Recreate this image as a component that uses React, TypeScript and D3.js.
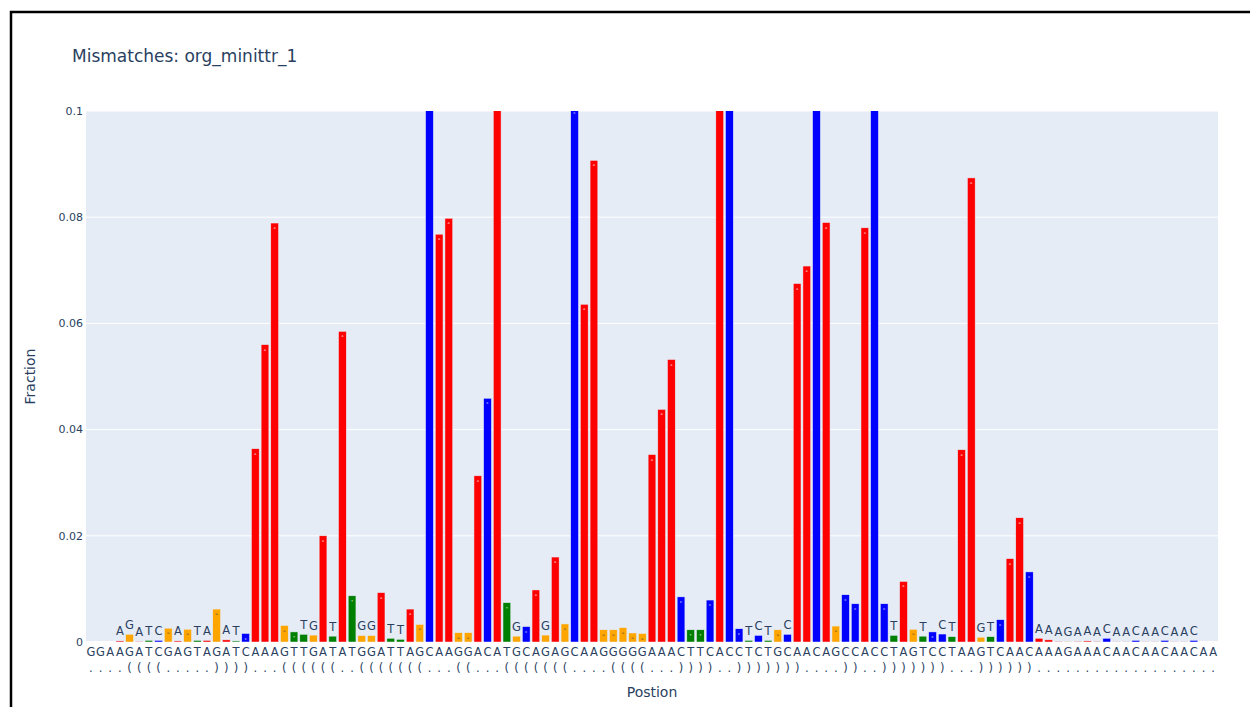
import { useEffect, useRef } from 'react';
import * as d3 from 'd3';

// reference sequence, one letter per position (117 nt)
const sequence = [
  'GGAAGATCGA', 'GTAGATCAAA', 'GTTGATATGG', 'ATTAGCAAGG', 'ACATGCAGAG', 'CAAGGGGGAA',
  'ACTTCACCTC', 'TGCAACAGCC', 'ACCTAGTCCT', 'AAGTCAACAA', 'AGAAACAACA', 'ACAACAA',
].join('');

// dot-bracket secondary structure, same length as sequence
const structure = [
  '....', '((((', '.....', '))))', '...', '((((((', '..', '(((((((', '...', '((', '...',
  '(((((((', '....', '((((', '...', '))))', '..', ')))))))', '....', '))', '..',
  ')))))))', '...', '))))))', '...................',
].join('');

// mismatch fraction per position (null = no data)
const fractions: (number | null)[] = [
  null, null, null, 0.0002, 0.00145, 0.0001, 0.0003, 0.0003, 0.0026, 0.0002,
  0.0024, 0.0003, 0.0003, 0.0062, 0.0004, 0.0002, 0.0016, 0.0364, 0.056, 0.0789,
  0.0031, 0.0019, 0.00145, 0.0013, 0.02, 0.0011, 0.0585, 0.0087, 0.0012, 0.0012,
  0.0093, 0.0007, 0.0005, 0.0062, 0.0033, 0.14, 0.0768, 0.0798, 0.00175, 0.00175,
  0.0313, 0.0459, 0.12, 0.0074, 0.0011, 0.0029, 0.0098, 0.0013, 0.016, 0.0034,
  0.1005, 0.0636, 0.0907, 0.0023, 0.0023, 0.0027, 0.0017, 0.0016, 0.0353, 0.0438,
  0.0532, 0.0085, 0.0023, 0.0023, 0.0079, 0.16, 0.13, 0.0025, 0.0003, 0.00125,
  0.0003, 0.0023, 0.00145, 0.0675, 0.0708, 0.11, 0.079, 0.003, 0.0089, 0.0072,
  0.078, 0.15, 0.0072, 0.00125, 0.0114, 0.0024, 0.0011, 0.0019, 0.0015, 0.001,
  0.0362, 0.0874, 0.0009, 0.001, 0.0042, 0.0157, 0.0234, 0.0132, 0.0007, 0.0004,
  0.0001, 0.0001, 0.0001, 0.0002, 0.0001, 0.0007, 0.00005, 0.00005, 0.0003, 0.00005,
  0.00005, 0.0003, 0.00005, 0.00005, 0.0003, null, null,
];

const yTicks = [0, 0.02, 0.04, 0.06, 0.08, 0.1];
const yTickLabels = ['0', '0.02', '0.04', '0.06', '0.08', '0.1'];

const baseColors: Record<string, string> = {
  A: 'red',
  C: 'blue',
  G: 'orange',
  T: 'green',
};

const FONT = '"DejaVu Sans", Verdana, sans-serif';
const TEXT_COLOR = '#2a3f5f';

export default function App() {
  const svgRef = useRef<SVGSVGElement>(null);

  useEffect(() => {
    if (!svgRef.current) return;
    document.body.style.margin = '0';

    const width = 1250;
    const height = 707;
    const plot = { left: 86, right: 1218, top: 111, bottom: 642 };

    const svg = d3.select(svgRef.current)
      .attr('width', width)
      .attr('height', height)
      .style('display', 'block')
      .style('font-family', FONT);
    svg.selectAll('*').remove();

    svg.append('rect')
      .attr('width', width)
      .attr('height', height)
      .attr('fill', '#fff');

    // frame round the figure
    svg.append('rect')
      .attr('x', 11)
      .attr('y', 12)
      .attr('width', width + 50)
      .attr('height', height + 50)
      .attr('fill', 'none')
      .attr('stroke', '#000')
      .attr('stroke-width', 2.5);

    const positions = d3.range(sequence.length);

    const x = d3.scaleBand<number>()
      .domain(positions)
      .range([plot.left, plot.right])
      .paddingInner(0.2)
      .paddingOuter(0.1);

    const y = d3.scaleLinear()
      .domain([0, 0.1])
      .range([plot.bottom, plot.top]);

    // clip
    svg.append('clipPath')
      .attr('id', 'plot-clip')
      .append('rect')
      .attr('x', plot.left)
      .attr('y', plot.top)
      .attr('width', plot.right - plot.left)
      .attr('height', plot.bottom - plot.top);

    // background + grid
    svg.append('rect')
      .attr('x', plot.left)
      .attr('y', plot.top)
      .attr('width', plot.right - plot.left)
      .attr('height', plot.bottom - plot.top)
      .attr('fill', '#E5ECF6');

    svg.append('g')
      .selectAll('line')
      .data(yTicks.filter(t => t > 0))
      .join('line')
      .attr('x1', plot.left)
      .attr('x2', plot.right)
      .attr('y1', d => y(d))
      .attr('y2', d => y(d))
      .attr('stroke', '#fff')
      .attr('stroke-width', 1);

    svg.append('line')
      .attr('x1', plot.left)
      .attr('x2', plot.right)
      .attr('y1', y(0))
      .attr('y2', y(0))
      .attr('stroke', '#fff')
      .attr('stroke-width', 2);

    // y tick labels
    svg.append('g')
      .selectAll('text')
      .data(yTicks)
      .join('text')
      .attr('x', plot.left - 3)
      .attr('y', d => y(d))
      .attr('dy', '0.35em')
      .attr('text-anchor', 'end')
      .attr('font-size', '11px')
      .attr('fill', TEXT_COLOR)
      .text((_, i) => yTickLabels[i]);

    // x tick labels: base on top, structure below
    const xTicks = svg.append('g')
      .selectAll('text')
      .data(positions)
      .join('text')
      .attr('text-anchor', 'middle')
      .attr('font-size', '11.5px')
      .attr('fill', TEXT_COLOR);

    xTicks.append('tspan')
      .attr('x', d => (x(d) || 0) + x.bandwidth() / 2)
      .attr('y', 656)
      .text(d => sequence[d]);

    xTicks.append('tspan')
      .attr('x', d => (x(d) || 0) + x.bandwidth() / 2)
      .attr('y', 672)
      .text(d => structure[d]);

    // bars
    const valid = positions.filter(i => fractions[i] !== null);
    const barH = (i: number) => plot.bottom - y(fractions[i] as number);
    const insideMin = 8.2;

    const barLayer = svg.append('g').attr('clip-path', 'url(#plot-clip)');

    barLayer.selectAll('rect')
      .data(valid)
      .join('rect')
      .attr('x', d => x(d) || 0)
      .attr('y', d => y(fractions[d] as number))
      .attr('width', x.bandwidth())
      .attr('height', d => barH(d))
      .attr('fill', d => baseColors[sequence[d]])
      .attr('stroke', '#E5ECF6')
      .attr('stroke-width', 0.5);

    // text squeezed inside tall bars (only where the bar end is in view)
    barLayer.selectAll('text')
      .data(valid.filter(i => barH(i) >= insideMin && y(fractions[i] as number) + 3 >= plot.top))
      .join('text')
      .attr('x', d => (x(d) || 0) + x.bandwidth() / 2)
      .attr('y', d => y(fractions[d] as number) + 6)
      .attr('text-anchor', 'middle')
      .attr('font-size', '2.8px')
      .attr('fill', d => (sequence[d] === 'G' ? '#444' : '#fff'))
      .text(d => sequence[d]);

    // text above short bars
    svg.append('g')
      .selectAll('text')
      .data(valid.filter(i => barH(i) < insideMin))
      .join('text')
      .attr('x', d => (x(d) || 0) + x.bandwidth() / 2)
      .attr('y', d => y(fractions[d] as number) - 5.5)
      .attr('text-anchor', 'middle')
      .attr('font-size', '11.5px')
      .attr('fill', TEXT_COLOR)
      .text(d => sequence[d]);

    // titles
    svg.append('text')
      .attr('x', 72)
      .attr('y', 62)
      .attr('font-size', '17px')
      .attr('fill', TEXT_COLOR)
      .text('Mismatches: org_minittr_1');

    svg.append('text')
      .attr('transform', `translate(35,${(plot.top + plot.bottom) / 2}) rotate(-90)`)
      .attr('text-anchor', 'middle')
      .attr('font-size', '14px')
      .attr('fill', TEXT_COLOR)
      .text('Fraction');

    svg.append('text')
      .attr('x', (plot.left + plot.right) / 2)
      .attr('y', 697)
      .attr('text-anchor', 'middle')
      .attr('font-size', '14px')
      .attr('fill', TEXT_COLOR)
      .text('Postion');
  }, []);

  return <svg ref={svgRef} />;
}
